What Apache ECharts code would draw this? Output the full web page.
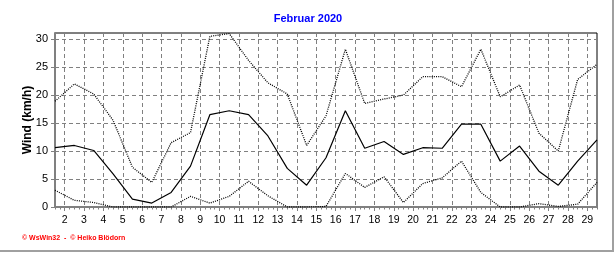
<!DOCTYPE html>
<html>
<head>
<meta charset="utf-8">
<script src="https://cdn.jsdelivr.net/npm/echarts@6/dist/echarts.min.js"></script>
<style>html,body{margin:0;padding:0;background:#fff}#c{width:616px;height:253px}</style>
</head>
<body>
<div id="c"></div>
<script>
// Days of February 2020 (one point per day)
const days = [1,2,3,4,5,6,7,8,9,10,11,12,13,14,15,16,17,18,19,20,21,22,23,24,25,26,27,28,29];
// Wind km/h
const windMax  = [18.9,22.0,20.2,15.5,7.1,4.4,11.5,13.3,30.5,31.0,26.2,22.2,20.2,11.0,16.3,28.2,18.5,19.3,20.0,23.3,23.3,21.5,28.2,19.7,21.8,13.2,10.0,22.8,25.5];
const windMean = [10.6,11.0,10.1,5.9,1.4,0.7,2.6,7.3,16.5,17.2,16.5,12.7,6.9,3.9,8.8,17.2,10.5,11.7,9.4,10.6,10.5,14.8,14.8,8.2,10.9,6.4,3.9,8.2,12.0];
const windMin  = [3.0,1.2,0.8,0,0,0,0,1.9,0.7,1.9,4.6,2.0,0,0,0.1,6.0,3.5,5.4,0.8,4.2,5.2,8.2,2.6,0,0,0.6,0.1,0.5,4.4];
// Tick labels (day boundaries) and y ticks
const xTickLabels = ['2','3','4','5','6','7','8','9','10','11','12','13','14','15','16','17','18','19','20','21','22','23','24','25','26','27','28','29'];
const yTicks = [0,5,10,15,20,25,30];

const xTickValues = xTickLabels.map(l => Number(l) - 0.5);
const pair = arr => days.map((d, i) => [d, arr[i]]);

const chart = echarts.init(document.getElementById('c'), null, {renderer: 'canvas'});
const gray = '#808080';
chart.setOption({
  animation: false,
  backgroundColor: '#fff',
  title: {
    text: 'Februar 2020', left: 'center', top: 13.5, padding: 0,
    textStyle: {color: '#0000ff', fontSize: 11, fontWeight: 'bold', fontFamily: 'Liberation Sans, Arial, sans-serif'}
  },
  grid: {left: 55, right: 19, top: 33, bottom: 46, show: true, borderColor: '#000', borderWidth: 1, backgroundColor: 'transparent', outerBoundsMode: 'none'},
  xAxis: [{
    type: 'value', min: 1, max: 29,
    axisLine: {show: true, onZero: false, lineStyle: {color: gray, width: 2}},
    axisTick: {show: true, length: 4, customValues: xTickValues, lineStyle: {color: gray}},
    axisLabel: {show: true, customValues: xTickValues, margin: 8, color: '#000', fontSize: 10.5, fontFamily: 'Liberation Sans, Arial, sans-serif',
      formatter: v => xTickLabels[Math.round(v - 1.5)]},
    splitLine: {show: true, lineStyle: {color: gray, type: [4, 3], width: 1}}
  }, {
    type: 'value', min: 1, max: 29, interval: 0.25, position: 'bottom',
    axisLine: {show: false, onZero: false},
    axisTick: {show: true, length: 2.5, lineStyle: {color: gray}},
    axisLabel: {show: false},
    splitLine: {show: false}
  }],
  yAxis: {
    type: 'value', min: 0, max: 31.1,
    axisLine: {show: true, lineStyle: {color: gray, width: 2}},
    axisTick: {show: true, length: 4, customValues: yTicks, lineStyle: {color: gray}},
    axisLabel: {show: true, customValues: yTicks, margin: 7, color: '#000', fontSize: 11, fontFamily: 'Liberation Sans, Arial, sans-serif'},
    splitLine: {show: true, lineStyle: {color: gray, type: [4, 3], width: 1}}
  },
  series: [
    {type: 'line', xAxisIndex: 0, data: pair(windMax), symbol: 'none', lineStyle: {color: '#000', width: 1.3, type: [1, 1.2]}},
    {type: 'line', xAxisIndex: 0, data: pair(windMean), symbol: 'none', lineStyle: {color: '#000', width: 1.2, type: 'solid'}},
    {type: 'line', xAxisIndex: 0, data: pair(windMin), symbol: 'none', lineStyle: {color: '#000', width: 1.3, type: [1, 1.2]}}
  ],
  graphic: [
    {type: 'text', x: 27.5, y: 120, rotation: Math.PI / 2,
      style: {text: 'Wind (km/h)', fill: '#000', font: 'bold 12px "Liberation Sans", Arial, sans-serif', align: 'center', verticalAlign: 'middle'}},
    {type: 'text', x: 22, y: 238.5,
      style: {text: '© WsWin32  -  © Heiko Blödorn', fill: '#ff0000', font: 'bold 7px "Liberation Sans", Arial, sans-serif', align: 'left', verticalAlign: 'middle'}},
    {type: 'rect', shape: {x: 612, y: 0, width: 2, height: 252}, style: {fill: '#a0a0a0'}},
    {type: 'rect', shape: {x: 0, y: 250, width: 614, height: 2}, style: {fill: '#a0a0a0'}}
  ]
});
</script>
</body>
</html>
